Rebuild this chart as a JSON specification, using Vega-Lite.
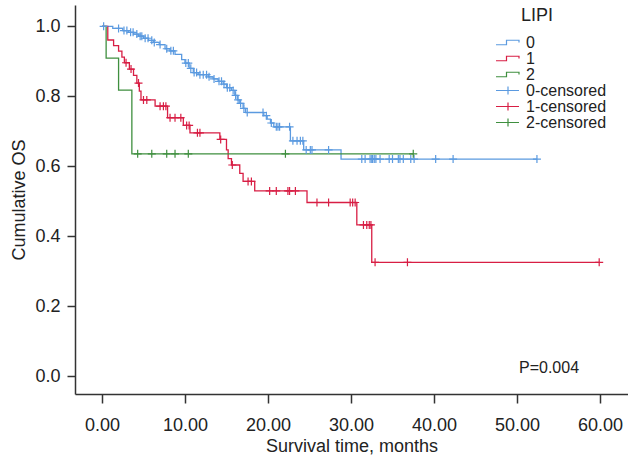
{
  "$schema": "https://vega.github.io/schema/vega-lite/v6.json",
  "description": "Kaplan-Meier curves of cumulative OS by LIPI group.",
  "width": 553,
  "height": 389,
  "autosize": {"type": "none"},
  "padding": {"left": 75, "top": 5, "right": 0, "bottom": 67},
  "background": "white",
  "config": {
    "font": "Liberation Sans",
    "view": {"stroke": null},
    "axis": {
      "grid": false,
      "domainColor": "#333333",
      "domainWidth": 1.5,
      "tickColor": "#333333",
      "tickWidth": 1.5,
      "labelColor": "#222222",
      "titleColor": "#222222",
      "labelFontSize": 18,
      "titleFontSize": 18,
      "titleFontWeight": "normal"
    }
  },
  "datasets": {
    "curves": [
      {"series": "0", "t": 0, "s": 1.0},
      {"series": "0", "t": 1.3, "s": 0.994},
      {"series": "0", "t": 2.5, "s": 0.988},
      {"series": "0", "t": 3.2, "s": 0.983},
      {"series": "0", "t": 3.8, "s": 0.978},
      {"series": "0", "t": 4.4, "s": 0.972},
      {"series": "0", "t": 5.0, "s": 0.966},
      {"series": "0", "t": 5.6, "s": 0.96},
      {"series": "0", "t": 6.2, "s": 0.954},
      {"series": "0", "t": 6.9, "s": 0.948},
      {"series": "0", "t": 7.6, "s": 0.936},
      {"series": "0", "t": 8.2, "s": 0.93},
      {"series": "0", "t": 8.8, "s": 0.92},
      {"series": "0", "t": 9.6, "s": 0.905},
      {"series": "0", "t": 10.0, "s": 0.895},
      {"series": "0", "t": 10.5, "s": 0.88},
      {"series": "0", "t": 11.0, "s": 0.868},
      {"series": "0", "t": 11.6, "s": 0.862},
      {"series": "0", "t": 12.8, "s": 0.856},
      {"series": "0", "t": 13.4, "s": 0.85},
      {"series": "0", "t": 14.0, "s": 0.843},
      {"series": "0", "t": 14.6, "s": 0.835},
      {"series": "0", "t": 15.0, "s": 0.825},
      {"series": "0", "t": 15.6, "s": 0.817},
      {"series": "0", "t": 16.0, "s": 0.803},
      {"series": "0", "t": 16.3, "s": 0.79},
      {"series": "0", "t": 16.6, "s": 0.78},
      {"series": "0", "t": 17.0, "s": 0.766},
      {"series": "0", "t": 17.3, "s": 0.754},
      {"series": "0", "t": 19.5, "s": 0.745},
      {"series": "0", "t": 19.9, "s": 0.735},
      {"series": "0", "t": 20.3, "s": 0.724},
      {"series": "0", "t": 20.7, "s": 0.713},
      {"series": "0", "t": 22.7, "s": 0.673},
      {"series": "0", "t": 24.3, "s": 0.647},
      {"series": "0", "t": 28.8, "s": 0.621},
      {"series": "0", "t": 52.4, "s": 0.621},
      {"series": "1", "t": 0, "s": 1.0},
      {"series": "1", "t": 0.7, "s": 0.961},
      {"series": "1", "t": 1.4, "s": 0.945},
      {"series": "1", "t": 2.0, "s": 0.929},
      {"series": "1", "t": 2.4, "s": 0.912},
      {"series": "1", "t": 2.7, "s": 0.896},
      {"series": "1", "t": 3.3, "s": 0.878},
      {"series": "1", "t": 3.8, "s": 0.86},
      {"series": "1", "t": 4.2, "s": 0.838},
      {"series": "1", "t": 4.5, "s": 0.815},
      {"series": "1", "t": 4.7, "s": 0.79},
      {"series": "1", "t": 6.4, "s": 0.772},
      {"series": "1", "t": 7.9, "s": 0.739},
      {"series": "1", "t": 9.8, "s": 0.717},
      {"series": "1", "t": 10.6, "s": 0.696},
      {"series": "1", "t": 14.2, "s": 0.677},
      {"series": "1", "t": 15.0, "s": 0.647},
      {"series": "1", "t": 15.2, "s": 0.622},
      {"series": "1", "t": 15.6, "s": 0.604},
      {"series": "1", "t": 16.6, "s": 0.58},
      {"series": "1", "t": 17.0, "s": 0.557},
      {"series": "1", "t": 18.4, "s": 0.53},
      {"series": "1", "t": 24.7, "s": 0.497},
      {"series": "1", "t": 30.7, "s": 0.433},
      {"series": "1", "t": 32.5, "s": 0.326},
      {"series": "1", "t": 59.9, "s": 0.326},
      {"series": "2", "t": 0, "s": 1.0},
      {"series": "2", "t": 0.5, "s": 0.909},
      {"series": "2", "t": 2.0, "s": 0.818},
      {"series": "2", "t": 3.6, "s": 0.636},
      {"series": "2", "t": 37.5, "s": 0.636}
    ],
    "censored": [
      {"series": "0-censored", "t": 0.2, "s": 1.0},
      {"series": "0-censored", "t": 2.0, "s": 0.994},
      {"series": "0-censored", "t": 2.65, "s": 0.988},
      {"series": "0-censored", "t": 3.0, "s": 0.988},
      {"series": "0-censored", "t": 3.45, "s": 0.983},
      {"series": "0-censored", "t": 3.75, "s": 0.983},
      {"series": "0-censored", "t": 4.2, "s": 0.978},
      {"series": "0-censored", "t": 4.6, "s": 0.972},
      {"series": "0-censored", "t": 4.8, "s": 0.972},
      {"series": "0-censored", "t": 5.2, "s": 0.966},
      {"series": "0-censored", "t": 5.55, "s": 0.966},
      {"series": "0-censored", "t": 6.0, "s": 0.96},
      {"series": "0-censored", "t": 6.3, "s": 0.954},
      {"series": "0-censored", "t": 7.0, "s": 0.948},
      {"series": "0-censored", "t": 7.8, "s": 0.936},
      {"series": "0-censored", "t": 8.3, "s": 0.93},
      {"series": "0-censored", "t": 8.6, "s": 0.93},
      {"series": "0-censored", "t": 10.1, "s": 0.895},
      {"series": "0-censored", "t": 10.4, "s": 0.895},
      {"series": "0-censored", "t": 10.7, "s": 0.88},
      {"series": "0-censored", "t": 11.1, "s": 0.868},
      {"series": "0-censored", "t": 11.4, "s": 0.868},
      {"series": "0-censored", "t": 11.8, "s": 0.862},
      {"series": "0-censored", "t": 12.2, "s": 0.862},
      {"series": "0-censored", "t": 12.6, "s": 0.862},
      {"series": "0-censored", "t": 12.9, "s": 0.856},
      {"series": "0-censored", "t": 13.5, "s": 0.85},
      {"series": "0-censored", "t": 14.1, "s": 0.843},
      {"series": "0-censored", "t": 14.4, "s": 0.843},
      {"series": "0-censored", "t": 14.7, "s": 0.835},
      {"series": "0-censored", "t": 15.1, "s": 0.825},
      {"series": "0-censored", "t": 15.4, "s": 0.825},
      {"series": "0-censored", "t": 15.8, "s": 0.817},
      {"series": "0-censored", "t": 16.1, "s": 0.803},
      {"series": "0-censored", "t": 16.4, "s": 0.79},
      {"series": "0-censored", "t": 16.7, "s": 0.78},
      {"series": "0-censored", "t": 17.1, "s": 0.766},
      {"series": "0-censored", "t": 17.5, "s": 0.754},
      {"series": "0-censored", "t": 19.4, "s": 0.754},
      {"series": "0-censored", "t": 19.8, "s": 0.745},
      {"series": "0-censored", "t": 20.4, "s": 0.724},
      {"series": "0-censored", "t": 21.0, "s": 0.713},
      {"series": "0-censored", "t": 21.2, "s": 0.713},
      {"series": "0-censored", "t": 21.4, "s": 0.713},
      {"series": "0-censored", "t": 22.6, "s": 0.713},
      {"series": "0-censored", "t": 23.0, "s": 0.673},
      {"series": "0-censored", "t": 23.5, "s": 0.673},
      {"series": "0-censored", "t": 23.9, "s": 0.673},
      {"series": "0-censored", "t": 24.2, "s": 0.673},
      {"series": "0-censored", "t": 24.6, "s": 0.647},
      {"series": "0-censored", "t": 25.1, "s": 0.647},
      {"series": "0-censored", "t": 25.3, "s": 0.647},
      {"series": "0-censored", "t": 27.3, "s": 0.647},
      {"series": "0-censored", "t": 31.3, "s": 0.621},
      {"series": "0-censored", "t": 31.7, "s": 0.621},
      {"series": "0-censored", "t": 32.3, "s": 0.621},
      {"series": "0-censored", "t": 32.5, "s": 0.621},
      {"series": "0-censored", "t": 32.6, "s": 0.621},
      {"series": "0-censored", "t": 32.8, "s": 0.621},
      {"series": "0-censored", "t": 33.0, "s": 0.621},
      {"series": "0-censored", "t": 33.5, "s": 0.621},
      {"series": "0-censored", "t": 34.6, "s": 0.621},
      {"series": "0-censored", "t": 35.0, "s": 0.621},
      {"series": "0-censored", "t": 35.7, "s": 0.621},
      {"series": "0-censored", "t": 35.9, "s": 0.621},
      {"series": "0-censored", "t": 36.3, "s": 0.621},
      {"series": "0-censored", "t": 37.2, "s": 0.621},
      {"series": "0-censored", "t": 37.6, "s": 0.621},
      {"series": "0-censored", "t": 40.2, "s": 0.621},
      {"series": "0-censored", "t": 42.3, "s": 0.621},
      {"series": "0-censored", "t": 52.4, "s": 0.621},
      {"series": "1-censored", "t": 2.9, "s": 0.896},
      {"series": "1-censored", "t": 3.5, "s": 0.878},
      {"series": "1-censored", "t": 4.4, "s": 0.838},
      {"series": "1-censored", "t": 5.0, "s": 0.79},
      {"series": "1-censored", "t": 5.4, "s": 0.79},
      {"series": "1-censored", "t": 7.0, "s": 0.772},
      {"series": "1-censored", "t": 7.4, "s": 0.772},
      {"series": "1-censored", "t": 7.7, "s": 0.772},
      {"series": "1-censored", "t": 8.2, "s": 0.739},
      {"series": "1-censored", "t": 8.8, "s": 0.739},
      {"series": "1-censored", "t": 9.5, "s": 0.739},
      {"series": "1-censored", "t": 10.2, "s": 0.717},
      {"series": "1-censored", "t": 10.5, "s": 0.717},
      {"series": "1-censored", "t": 11.5, "s": 0.696},
      {"series": "1-censored", "t": 11.8, "s": 0.696},
      {"series": "1-censored", "t": 14.3, "s": 0.677},
      {"series": "1-censored", "t": 15.7, "s": 0.604},
      {"series": "1-censored", "t": 17.6, "s": 0.557},
      {"series": "1-censored", "t": 18.0, "s": 0.557},
      {"series": "1-censored", "t": 20.2, "s": 0.53},
      {"series": "1-censored", "t": 21.0, "s": 0.53},
      {"series": "1-censored", "t": 22.4, "s": 0.53},
      {"series": "1-censored", "t": 22.6, "s": 0.53},
      {"series": "1-censored", "t": 23.3, "s": 0.53},
      {"series": "1-censored", "t": 25.9, "s": 0.497},
      {"series": "1-censored", "t": 27.3, "s": 0.497},
      {"series": "1-censored", "t": 29.9, "s": 0.497},
      {"series": "1-censored", "t": 30.2, "s": 0.497},
      {"series": "1-censored", "t": 30.5, "s": 0.497},
      {"series": "1-censored", "t": 31.5, "s": 0.433},
      {"series": "1-censored", "t": 31.9, "s": 0.433},
      {"series": "1-censored", "t": 32.2, "s": 0.433},
      {"series": "1-censored", "t": 32.4, "s": 0.433},
      {"series": "1-censored", "t": 32.9, "s": 0.326},
      {"series": "1-censored", "t": 36.8, "s": 0.326},
      {"series": "1-censored", "t": 59.9, "s": 0.326},
      {"series": "2-censored", "t": 4.3, "s": 0.636},
      {"series": "2-censored", "t": 6.0, "s": 0.636},
      {"series": "2-censored", "t": 7.8, "s": 0.636},
      {"series": "2-censored", "t": 8.8, "s": 0.636},
      {"series": "2-censored", "t": 10.4, "s": 0.636},
      {"series": "2-censored", "t": 22.1, "s": 0.636},
      {"series": "2-censored", "t": 37.5, "s": 0.636}
    ],
    "notes": [
      {"label": "P=0.004", "t": 50.24, "s": 0.024}
    ]
  },
  "encoding": {
    "x": {
      "field": "t",
      "type": "quantitative",
      "scale": {"domain": [-3.25, 63.37], "nice": false, "zero": false},
      "axis": {
        "title": "Survival time, months",
        "values": [0, 10, 20, 30, 40, 50, 60],
        "format": ".2f",
        "tickSize": 9,
        "labelPadding": 13,
        "titlePadding": 3
      }
    },
    "y": {
      "field": "s",
      "type": "quantitative",
      "scale": {"domain": [-0.05, 1.061], "nice": false, "zero": false},
      "axis": {
        "title": "Cumulative OS",
        "values": [0, 0.2, 0.4, 0.6, 0.8, 1.0],
        "format": ".1f",
        "tickSize": 8,
        "labelPadding": 7,
        "titlePadding": 6
      }
    }
  },
  "layer": [
    {
      "data": {"name": "curves"},
      "mark": {"type": "line", "interpolate": "step-after", "strokeWidth": 1.3},
      "encoding": {
        "color": {
          "field": "series",
          "type": "nominal",
          "scale": {
            "domain": ["0", "1", "2", "0-censored", "1-censored", "2-censored"],
            "range": ["#5b9ae0", "#d81e44", "#3f8f3f", "#5b9ae0", "#d81e44", "#3f8f3f"]
          },
          "legend": {
            "title": "LIPI",
            "orient": "none",
            "legendX": 424.5,
            "legendY": 1.5,
            "padding": 0,
            "titleFontSize": 18,
            "titleFontWeight": "normal",
            "titleColor": "#222222",
            "titlePadding": 10,
            "titleAnchor": "start",
            "labelFontSize": 16,
            "labelColor": "#222222",
            "labelOffset": 10.5,
            "rowPadding": 0,
            "symbolSize": 100,
            "symbolStrokeWidth": 1.2,
            "encode": {
              "title": {"update": {"dx": {"value": 21.5}}},
              "symbols": {
                "update": {
                  "shape": {"signal": "length(datum.value) < 2 ? 'M-2.3,0.45H-0.2V-0.45H2.3V0' : 'M-2.3,0H2.3M0.1,-0.8V0.8'"},
                  "fill": {"value": "transparent"},
                  "stroke": {"scale": "color", "field": "value"}
                }
              }
            }
          }
        }
      }
    },
    {
      "data": {"name": "censored"},
      "mark": {
        "type": "point",
        "shape": "M-1,0H1M0,-1V1",
        "filled": false,
        "size": 64,
        "strokeWidth": 1.2,
        "opacity": 1
      },
      "encoding": {
        "color": {"field": "series", "type": "nominal"}
      }
    },
    {
      "data": {"name": "notes"},
      "mark": {"type": "text", "align": "left", "baseline": "middle", "fontSize": 16, "color": "#222222"},
      "encoding": {
        "text": {"field": "label"}
      }
    }
  ]
}
